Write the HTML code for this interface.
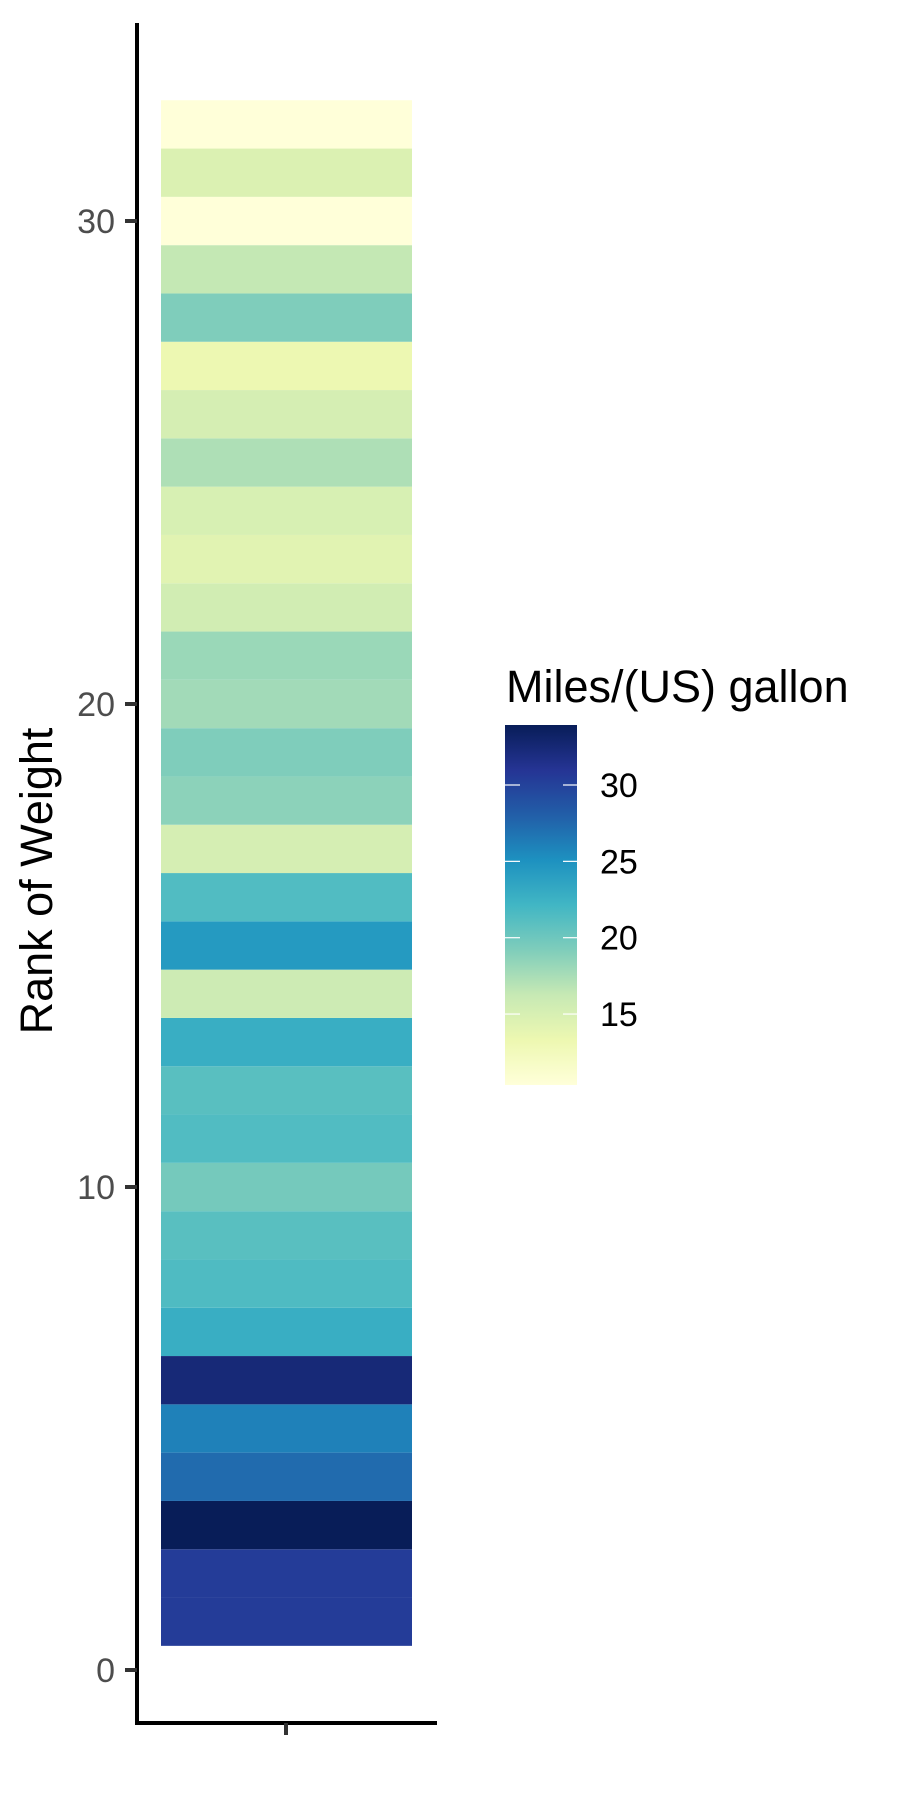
<!DOCTYPE html>
<html><head><meta charset="utf-8"><style>
html,body{margin:0;padding:0;background:#fff;}
svg{display:block;font-family:"Liberation Sans",Arial,sans-serif;}
</style></head><body>
<svg id="chart" width="900" height="1800" viewBox="0 0 900 1800">
<defs>
<linearGradient id="lg" x1="0" y1="1" x2="0" y2="0">
<stop offset="0" stop-color="#ffffd9"/><stop offset="0.125" stop-color="#edf8b1"/><stop offset="0.25" stop-color="#c7e9b4"/><stop offset="0.375" stop-color="#7fcdbb"/><stop offset="0.5" stop-color="#41b6c4"/><stop offset="0.625" stop-color="#1d91c0"/><stop offset="0.75" stop-color="#225ea8"/><stop offset="0.875" stop-color="#253494"/><stop offset="1" stop-color="#081d58"/>
</linearGradient>
</defs>
<g id="tiles"></g>
<line x1="137" y1="23" x2="137" y2="1725" stroke="#000" stroke-width="4"/>
<line x1="135" y1="1723" x2="437" y2="1723" stroke="#000" stroke-width="4"/>
<line x1="286" y1="1723" x2="286" y2="1735" stroke="#333" stroke-width="4"/>
<g id="yticks"></g>
<text transform="translate(52,881) rotate(-90)" text-anchor="middle" font-size="45" fill="#000">Rank of Weight</text>
<g>
<text x="506" y="702" font-size="45" fill="#000">Miles/(US) gallon</text>
<rect x="505" y="725" width="72" height="360" fill="url(#lg)"/>
<g id="legticks"></g>
</g>
</svg>
<script>
const ranks=[1,2,3,4,5,6,7,8,9,10,11,12,13,14,15,16,17,18,19,20,21,22,23,24,25,26,27,28,29,30,31,32];
const mpg=[30.4,30.4,33.9,27.3,26,32.4,22.8,21.5,21,19.7,21.4,21,22.8,15.8,24.4,21.4,15.2,18.7,19.2,17.8,18.1,15.5,14.3,15,17.3,15.2,13.3,19.2,16.4,10.4,14.7,10.4];
const yTicks=[0,10,20,30];
const legTicks=[15,20,25,30];
const NS="http://www.w3.org/2000/svg";
const cols=["#ffffd9","#edf8b1","#c7e9b4","#7fcdbb","#41b6c4","#1d91c0","#225ea8","#253494","#081d58"];
const vmin=Math.min(...mpg),vmax=Math.max(...mpg);
function y(v){return 1670-v*48.3;}
function ly(v){return 785-(v-30)*15.27;}
function hex(c){return [1,3,5].map(i=>parseInt(c.substr(i,2),16));}
function color(v){let t=(v-vmin)/(vmax-vmin)*(cols.length-1);let i=Math.min(Math.floor(t),cols.length-2);let f=t-i;const a=hex(cols[i]),b=hex(cols[i+1]);return "rgb("+a.map((x,k)=>Math.round(x+(b[k]-x)*f)).join(",")+")";}
const tg=document.getElementById("tiles");
ranks.forEach((r,i)=>{const el=document.createElementNS(NS,"rect");
el.setAttribute("x",161);el.setAttribute("width",251);
el.setAttribute("y",y(r+0.5));el.setAttribute("height",y(r-0.5)-y(r+0.5));
el.setAttribute("fill",color(mpg[i]));


tg.appendChild(el);});
const yg=document.getElementById("yticks");
yTicks.forEach(v=>{const l=document.createElementNS(NS,"line");
l.setAttribute("x1",125);l.setAttribute("x2",137);l.setAttribute("y1",y(v));l.setAttribute("y2",y(v));
l.setAttribute("stroke","#333");l.setAttribute("stroke-width",4);


yg.appendChild(l);
const t=document.createElementNS(NS,"text");
t.setAttribute("x",115);t.setAttribute("y",y(v)+12);t.setAttribute("text-anchor","end");
t.setAttribute("font-size","34");t.setAttribute("fill","#4d4d4d");t.textContent=v;


yg.appendChild(t);});
const lg=document.getElementById("legticks");
legTicks.forEach(v=>{[[505,520],[563,577]].forEach(p=>{const l=document.createElementNS(NS,"line");
l.setAttribute("x1",p[0]);l.setAttribute("x2",p[1]);l.setAttribute("y1",ly(v));l.setAttribute("y2",ly(v));
l.setAttribute("stroke","#fff");l.setAttribute("stroke-width",1.2);


lg.appendChild(l);});
const t=document.createElementNS(NS,"text");
t.setAttribute("x",600);t.setAttribute("y",ly(v)+12);t.setAttribute("font-size","34");t.setAttribute("fill","#000");t.textContent=v;


lg.appendChild(t);});
</script>
</body></html>
